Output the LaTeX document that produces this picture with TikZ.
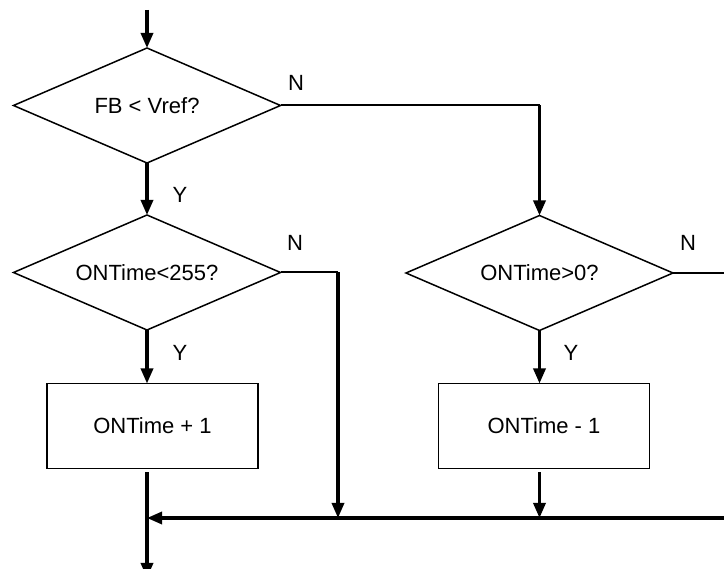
\documentclass[tikz,border=0pt]{standalone}
\usepackage{fontspec}
\setmainfont{Liberation Sans}
\usetikzlibrary{shapes.geometric,arrows.meta}
\begin{document}
\begin{tikzpicture}[x=1pt,y=-1pt,
  every node/.style={font=\fontsize{22}{26}\selectfont},
  decision/.style={diamond,draw,line width=1.5pt,inner sep=0pt,outer sep=0pt,shape aspect=2.32,minimum width=267pt,minimum height=115pt},
  procbox/.style={rectangle,draw,line width=1.6pt,inner sep=0pt,outer sep=0pt,minimum width=211pt,minimum height=85pt},
  thinline/.style={line width=2pt},
  flow/.style={line width=3.2pt,-{Triangle[length=15pt,width=12pt]}},
  lbl/.style={inner sep=0pt}]
\useasboundingbox (0,0) rectangle (724,569);
\fill[white] (0,0) rectangle (724,569);

\node[decision] (d1) at (147,105.5) {FB < Vref?};
\node[decision] (d2) at (147,272.5) {ONTime<255?};
\node[decision] (d3) at (539.5,273) {ONTime>0?};
\node[procbox] (b1) at (152.5,426) {ONTime + 1};
\node[procbox] (b2) at (544,426) {ONTime - 1};

\node[lbl] (n1) at (296,83) {N};
\node[lbl] (n2) at (295,243) {N};
\node[lbl] (n3) at (688,243) {N};
\node[lbl] (y1) at (180,195) {Y};
\node[lbl] (y2) at (180,353) {Y};
\node[lbl] (y3) at (571,353) {Y};

\coordinate (top) at (147,10);
\coordinate (c1) at (539.5,105.5);
\coordinate (c2) at (338,272.5);
\coordinate (c3) at (730,273);
\coordinate (jr) at (730,518);
\coordinate (jl) at (147,518);
\coordinate (jm) at (338,518);
\coordinate (j2) at (539.5,518);
\coordinate (b1o) at (147,468.5);
\coordinate (b2o) at (539.5,468.5);
\coordinate (b2i) at (539.5,383.5);
\coordinate (b1i) at (147,383.5);
\coordinate (bot) at (147,578);

\draw[flow] (top) -- (d1.north);
\draw[flow] (d1.south) -- (d2.north);
\draw[thinline] (d1.east) -- (c1);
\draw[flow] (c1) -- (d3.north);
\draw[thinline] (d2.east) -- (c2);
\draw[flow] (c2) -- (jm);
\draw[thinline] (d3.east) -- (c3);
\draw[flow] (d2.south) -- (b1i);
\draw[flow] (d3.south) -- (b2i);
\draw[flow,shorten <=4pt] (b2o) -- (j2);
\draw[flow] (jr) -- (jl);
\draw[flow,shorten <=4pt] (b1o) -- (bot);
\end{tikzpicture}
\end{document}
